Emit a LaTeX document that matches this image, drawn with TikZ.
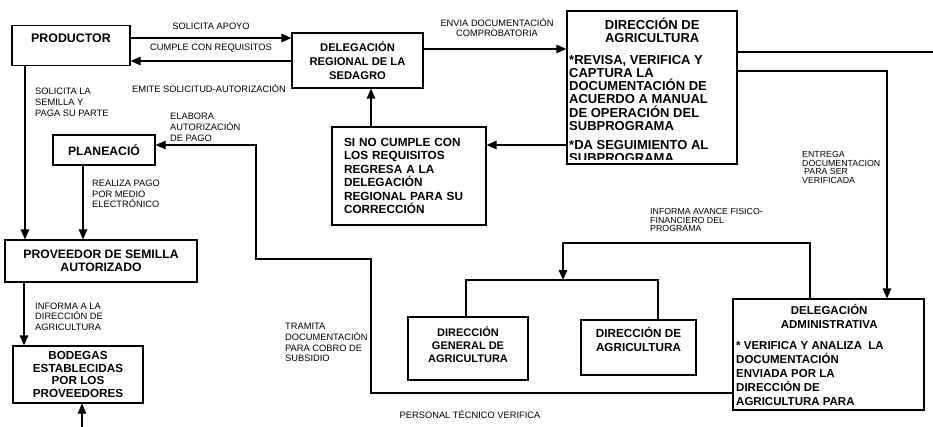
\documentclass[tikz,border=0pt]{standalone}
\usepackage{fontspec}
\setmainfont{Liberation Sans}
\usepackage{tikz}
\usetikzlibrary{arrows.meta}
\newcommand{\bx}[2]{\fontsize{#1}{#2}\selectfont\bfseries}
\newcommand{\notefont}{\fontsize{9.3}{10.7}\selectfont}

\begin{document}
\begin{tikzpicture}[x=1pt, y=-1pt,
        box/.style={draw, line width=1.2pt, inner sep=0pt, align=center},
        note/.style={inner sep=0pt, align=left, font=\notefont},
        arr/.style={line width=1.2pt, -{Triangle[length=10pt, width=8.5pt]}},
        wire/.style={line width=1.2pt}]
    \useasboundingbox (0,0) rectangle (933,427);

    % boxes
    \node[box, minimum width=118pt, minimum height=40pt, text height=9pt, text depth=15pt, font=\bx{12.4}{14}] (prod) at (71,45.5) {PRODUCTOR};
    \node[box, minimum width=131pt, minimum height=55pt, font=\bx{11.2}{14}] (delreg) at (357.5,60.5) {DELEGACIÓN\\REGIONAL DE LA\\SEDAGRO};
    \node[box, minimum width=170pt, minimum height=153pt] (dirag) at (652,87.5) {};
    \node[box, minimum width=154pt, minimum height=98pt, text width=130pt, align=left, font=\bx{11.8}{13.4}] (nocumple) at (409,176) {SI NO CUMPLE CON\\LOS REQUISITOS\\REGRESA A LA\\DELEGACIÓN\\REGIONAL PARA SU\\CORRECCIÓN};
    \node[box, minimum width=102pt, minimum height=30pt, font=\bx{12.2}{14}] (plan) at (104,150) {PLANEACIÓ};
    \node[box, minimum width=192pt, minimum height=42pt, font=\bx{12.2}{13}] (prov) at (101,261) {PROVEEDOR DE SEMILLA\\AUTORIZADO};
    \node[box, minimum width=130pt, minimum height=57pt, font=\bx{11.7}{12.7}] (bodegas) at (78,374.5) {BODEGAS\\ESTABLECIDAS\\POR LOS\\PROVEEDORES};
    \node[box, minimum width=120pt, minimum height=63pt] (dga) at (468,348.5) {};
    \node[inner sep=0pt, align=center, font=\bx{11}{13}] (dgatext) at (468,345) {DIRECCIÓN\\GENERAL DE\\AGRICULTURA};
    \node[box, minimum width=115pt, minimum height=55pt] (da) at (638.5,347.5) {};
    \node[inner sep=0pt, align=center, font=\bx{11.7}{14}] (datext) at (638.5,339) {DIRECCIÓN DE\\AGRICULTURA};
    \node[box, minimum width=191pt, minimum height=111pt] (deladm) at (828.5,354.5) {};

    % texts that run past the bottom of their box
    \begin{scope}
        \clip (567,11) rectangle (737,160);
        \node[inner sep=0pt, anchor=base west] (diragtext) at (569,29.5) {\begin{minipage}[t]{166pt}\bx{13}{13.2}%
            \centering DIRECCIÓN DE\\AGRICULTURA\par
            \vspace{8.5pt}\raggedright
            *REVISA, VERIFICA Y\\CAPTURA LA\\DOCUMENTACIÓN DE\\ACUERDO A MANUAL\\DE OPERACIÓN DEL\\SUBPROGRAMA\par
            \vspace{6pt}
            *DA SEGUIMIENTO AL\\SUBPROGRAMA%
        \end{minipage}};
    \end{scope}
    \begin{scope}
        \clip (733,299) rectangle (924,410);
        \node[inner sep=0pt, anchor=base west] (deladmtext) at (736,314.3) {\begin{minipage}[t]{186pt}\bx{11.5}{14}%
            \centering DELEGACIÓN\\ADMINISTRATIVA\par
            \vspace{7pt}\raggedright
            * VERIFICA Y ANALIZA\ \ LA\\DOCUMENTACIÓN\\ENVIADA POR LA\\DIRECCIÓN DE\\AGRICULTURA PARA%
        \end{minipage}};
    \end{scope}

    % labels
    \node[note] (apoyo) at (211,26) {SOLICITA APOYO};
    \node[note] (cumple) at (211,48) {CUMPLE CON REQUISITOS};
    \node[note] (emite) at (209,89) {EMITE SOLICITUD-AUTORIZACIÓN};
    \node[note, anchor=west] (semilla) at (35,102.5) {SOLICITA LA\\SEMILLA Y\\PAGA SU PARTE};
    \node[note, anchor=west] (elabora) at (170,127.5) {ELABORA\\AUTORIZACIÓN\\DE PAGO};
    \node[note, anchor=west] (realiza) at (92,194) {REALIZA PAGO\\POR MEDIO\\ELECTRÓNICO};
    \node[note, anchor=west] (informa) at (35,316.5) {INFORMA A LA\\DIRECCIÓN DE\\AGRICULTURA};
    \node[note, anchor=west] (tramita) at (285,342.5) {TRAMITA\\DOCUMENTACIÓN\\PARA COBRO DE\\SUBSIDIO};
    \node[note, align=center] (envia) at (497,27.5) {ENVIA DOCUMENTACIÓN\\COMPROBATORIA};
    \node[note, anchor=west, font=\fontsize{8.8}{8.6}\selectfont] (entrega) at (802,167.5) {ENTREGA\\DOCUMENTACION\\\hspace*{2pt}PARA SER\\VERIFICADA};
    \node[note, anchor=west, font=\fontsize{8.8}{8.6}\selectfont] (avance) at (650,220) {INFORMA AVANCE FISICO-\\FINANCIERO DEL\\PROGRAMA};
    \node[note] (personal) at (470,415) {PERSONAL TÉCNICO VERIFICA};

    % connectors
    \coordinate (edge) at (933,52);
    \coordinate (below) at (82,427);
    \coordinate (brk) at (563,280);

    \draw[arr] (prod.east |- 0,38) -- (delreg.west |- 0,38);
    \draw[arr] (delreg.west |- 0,61) -- (prod.east |- 0,61);
    \draw[arr] (prod.south -| 25,0) -- (prov.north -| 25,0);
    \draw[arr] (delreg.east |- 0,49) -- (dirag.west |- 0,49);
    \draw[wire] (dirag.east |- 0,52) -- (edge);
    \draw[arr] (dirag.east |- 0,71) -| (deladm.north -| 887,0);
    \draw[arr] (dirag.west |- 0,145) -- (nocumple.east |- 0,145);
    \draw[arr] (nocumple.north -| 371,0) -- (delreg.south -| 371,0);
    \draw[arr] (deladm.north -| 810,0) |- (563,243) -- (brk);
    \draw[wire] (dga.north -| 466,0) |- (brk) -| (da.north -| 658,0);
    \draw[arr] (deladm.west |- 0,393) -| (371,259) -| (256,145) -- (plan.east |- 0,145);
    \draw[arr] (plan.south -| 83,0) -- (prov.north -| 83,0);
    \draw[arr] (prov.south -| 24,0) -- (bodegas.north -| 24,0);
    \draw[arr] (below) -- (bodegas.south -| 82,0);
\end{tikzpicture}
\end{document}
